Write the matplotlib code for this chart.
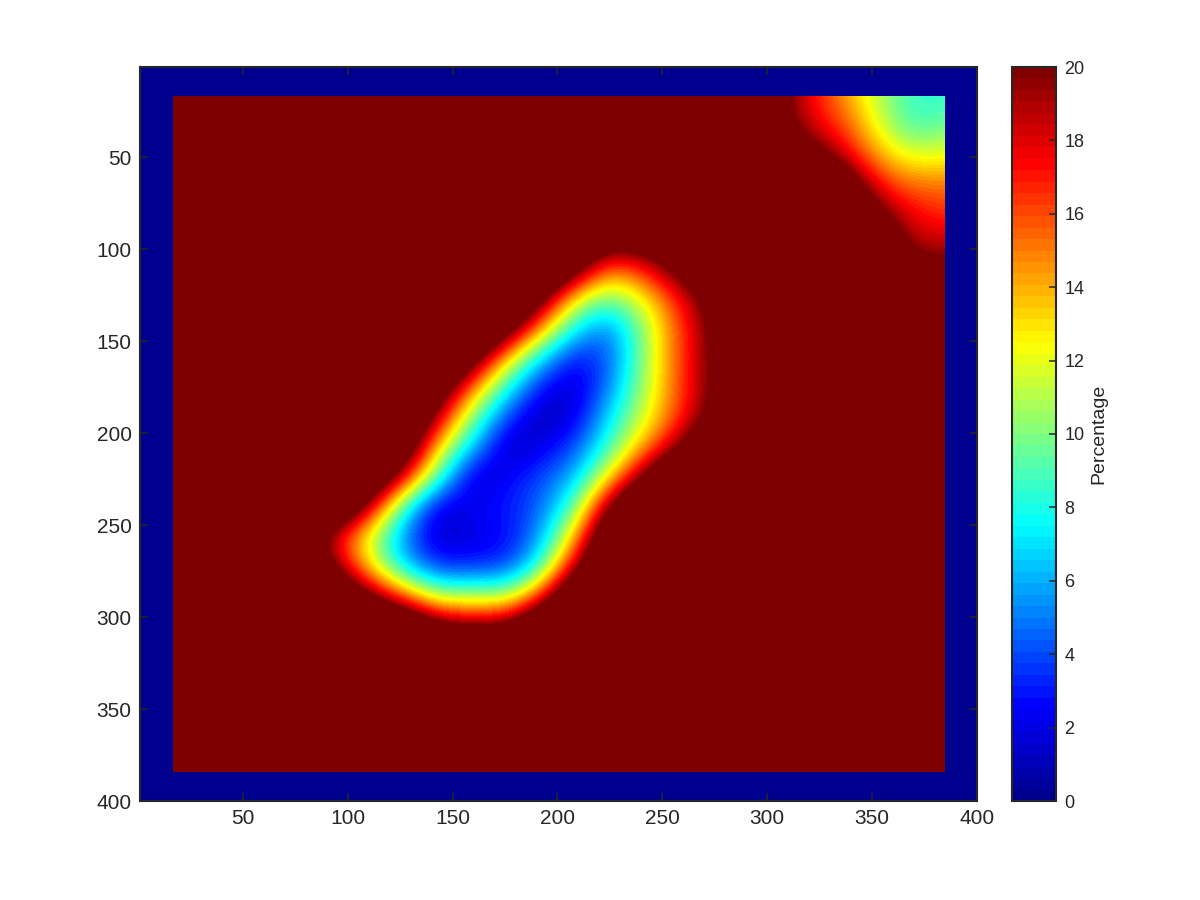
import matplotlib
matplotlib.use('Agg')
import matplotlib.pyplot as plt
from matplotlib.colors import LinearSegmentedColormap
from matplotlib.patches import Rectangle
import numpy as np

plt.rcParams['font.family'] = ['Liberation Sans', 'DejaVu Sans']

# percentage, grid nodes every 16 units
node_x = list(range(16, 385, 16))
node_y = list(range(16, 385, 16))
far_value = 28.0  # saturated, anything over 20 clips to dark red

# main blob
blob_x = [80, 96, 112, 128, 144, 160, 176, 192, 208, 224, 240, 256, 272, 288]
blob_y = [96, 112, 128, 144, 160, 176, 192, 208, 224, 240, 256, 272, 288, 304]
blob_values = [
    [28, 28, 28, 28, 28, 28, 28, 28, 26, 22, 22, 24, 28, 28],
    [28, 28, 28, 28, 28, 28, 28, 27, 21.5, 14.5, 16.5, 20.5, 24, 28],
    [28, 28, 28, 28, 28, 28, 27, 21, 12, 9, 12, 16.5, 21, 26],
    [28, 28, 28, 28, 28, 28, 22, 14, 7, 4.5, 10, 15.5, 20, 25],
    [28, 28, 28, 28, 28, 21.5, 13, 6.5, 2.5, 4, 10, 15.5, 20, 24.5],
    [28, 28, 28, 28, 22.5, 14.5, 7.5, 2.5, 1.2, 5, 10.5, 15.5, 20, 24],
    [28, 28, 28, 26, 18, 9.5, 3.5, 0.8, 1.8, 7, 11.5, 16, 20.5, 24],
    [28, 28, 28, 23, 12.5, 6, 0.8, 2, 4, 8.5, 14, 19, 25, 28],
    [28, 28, 25, 17.5, 8, 1, 2.5, 4, 6, 12.5, 20, 27, 28, 28],
    [28, 26, 18, 7.5, 1.5, 2.5, 3, 4.5, 9, 20, 27, 28, 28, 28],
    [22.5, 17, 11, 4.5, 1, 2, 2.5, 5.5, 13.5, 25, 28, 28, 28, 28],
    [25, 18.5, 12, 6, 3, 3, 3.5, 8, 18.5, 27, 28, 28, 28, 28],
    [28, 25, 19.5, 14.5, 10, 10.5, 10, 16, 26, 28, 28, 28, 28, 28],
    [28, 28, 28, 25.5, 20.5, 19.5, 20, 26, 28, 28, 28, 28, 28, 28],
]

# top right corner
corner_x = [304, 320, 336, 352, 368, 384]
corner_y = [16, 32, 48, 64, 80, 96, 112]
corner_values = [
    [21.5, 17.5, 14.5, 11, 8.5, 8.5],
    [21.5, 18, 16, 12, 8.5, 9.5],
    [25, 21.5, 18, 14, 11.5, 12],
    [28, 27, 23, 17, 15, 15],
    [28, 28, 27, 20.5, 17.5, 16.5],
    [28, 28, 28, 25, 18.5, 18.5],
    [28, 28, 28, 28, 21.5, 21],
]

xticks = [50, 100, 150, 200, 250, 300, 350, 400]
yticks = [50, 100, 150, 200, 250, 300, 350, 400]
cbar_ticks = [0, 2, 4, 6, 8, 10, 12, 14, 16, 18, 20]

grid = np.full((len(node_y), len(node_x)), far_value)
for xs, ys, vals in [(blob_x, blob_y, blob_values), (corner_x, corner_y, corner_values)]:
    for i, y in enumerate(ys):
        for j, x in enumerate(xs):
            grid[node_y.index(y), node_x.index(x)] = vals[i][j]

text_color = '#262626'
# the older jet, 64 levels, its yellow and cyan sit elsewhere than in matplotlib's
jet_parts = {
    'red': [(0, 0, 0), (0.375, 0, 0), (0.625, 1, 1), (0.875, 1, 1), (1, 0.5, 0.5)],
    'green': [(0, 0, 0), (0.125, 0, 0), (0.375, 1, 1), (0.625, 1, 1), (0.875, 0, 0), (1, 0, 0)],
    'blue': [(0, 0.5625, 0.5625), (0.125, 1, 1), (0.375, 1, 1), (0.625, 0, 0), (1, 0, 0)],
}
cmap = LinearSegmentedColormap('old_jet', jet_parts, N=64)

fig = plt.figure(figsize=(12, 9), dpi=100)
ax = fig.add_axes([140/1200, 99/900, 837/1200, 734/900])
ax.set_facecolor(cmap(0))

im = ax.imshow(grid, cmap=cmap, vmin=0, vmax=20, interpolation='bicubic',
               interpolation_stage='data', aspect='auto', extent=(8, 392, 392, 8))
im.set_clip_path(Rectangle((16.6, 16.5), 367.6, 368, transform=ax.transData))

ax.set_xlim(1, 400)
ax.set_ylim(400, 1)
ax.set_xticks(xticks)
ax.set_yticks(yticks)
ax.tick_params(direction='in', top=True, right=True, length=5.5, width=1.1,
               labelsize=15, colors=text_color, pad=6)
for s in ax.spines.values():
    s.set_linewidth(1.5)
    s.set_color(text_color)

cax = fig.add_axes([1012/1200, 99/900, 44/1200, 734/900])
cb = fig.colorbar(im, cax=cax, ticks=cbar_ticks)
cb.ax.tick_params(direction='in', length=5, width=1.1, labelsize=13,
                  colors=text_color, pad=6)
cb.outline.set_linewidth(1.5)
cb.outline.set_edgecolor(text_color)
cb.set_label('Percentage', fontsize=14, color=text_color, labelpad=4)

fig.savefig('out.png', dpi=100)
